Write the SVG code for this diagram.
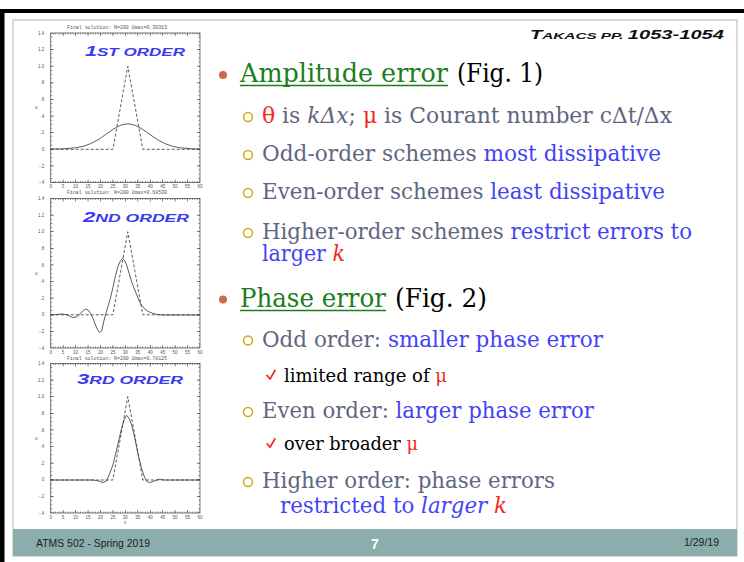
<svg xmlns="http://www.w3.org/2000/svg" width="744" height="562" viewBox="0 0 744 562">
<style>
.ser{font-family:"DejaVu Serif","Liberation Serif",serif}
.main{font-size:26px;fill:#000}
.sub{font-size:21.5px;fill:#5f6682}
.chk{font-size:18px;fill:#000}
.b{fill:#4343f5}
.r{fill:#f02a1e}
.g{fill:#1b7d1b}
.i{font-style:italic}
.tk{font-family:"Liberation Sans",Arial,sans-serif;font-size:4.5px;fill:#555}
.ttl{font-family:"Liberation Mono",monospace;font-size:5.5px;fill:#555}
.ord{font-family:"Liberation Sans",Arial,sans-serif;font-weight:bold;font-style:italic;fill:#3a3af0}
.cv{fill:none;stroke:#333;stroke-width:0.8;stroke-linejoin:round}
.ds{stroke-dasharray:3 2}
.sb{fill:none;stroke:#cfa914;stroke-width:1.5}
.dot{fill:#d0664e}
.ul{stroke:#1b7d1b;stroke-width:1.6}
.ck{fill:none;stroke:#f02a1e;stroke-width:1.7;stroke-linecap:round;stroke-linejoin:round}
.ft{font-family:"Liberation Sans",Arial,sans-serif;font-size:10.5px;fill:#222}
</style>
<defs>
<g id="ax" stroke="#555" fill="none">
<rect x="0" y="0" width="149.3" height="149.5" stroke-width="0.8"/>
<line x1="0.75" y1="0" x2="0.75" y2="149.5" stroke-width="1.5" stroke-dasharray="0.6 3.5528" stroke-dashoffset="0.3"/>
<line x1="1.5" y1="0" x2="1.5" y2="149.5" stroke-width="3" stroke-dasharray="0.7 15.911" stroke-dashoffset="0.35"/>
<line x1="148.55" y1="0" x2="148.55" y2="149.5" stroke-width="1.5" stroke-dasharray="0.6 3.5528" stroke-dashoffset="0.3"/>
<line x1="147.8" y1="0" x2="147.8" y2="149.5" stroke-width="3" stroke-dasharray="0.7 15.911" stroke-dashoffset="0.35"/>
<line x1="0" y1="0.75" x2="149.3" y2="0.75" stroke-width="1.5" stroke-dasharray="0.6 1.8883" stroke-dashoffset="0.3"/>
<line x1="0" y1="1.5" x2="149.3" y2="1.5" stroke-width="3" stroke-dasharray="0.7 11.7417" stroke-dashoffset="0.35"/>
<line x1="0" y1="148.75" x2="149.3" y2="148.75" stroke-width="1.5" stroke-dasharray="0.6 1.8883" stroke-dashoffset="0.3"/>
<line x1="0" y1="148" x2="149.3" y2="148" stroke-width="3" stroke-dasharray="0.7 11.7417" stroke-dashoffset="0.35"/>
<g class="tk" stroke="none" text-anchor="end">
<text x="-6.5" y="1.6">1.4</text><text x="-6.5" y="18.2">1.2</text><text x="-6.5" y="34.8">1.0</text><text x="-6.5" y="51.4">.8</text><text x="-6.5" y="68">.6</text><text x="-6.5" y="84.7">.4</text><text x="-6.5" y="101.3">.2</text><text x="-6.5" y="117.9">0</text><text x="-6.5" y="134.5">-.2</text><text x="-6.5" y="151.1">-.4</text>
</g>
<g class="tk" stroke="none" text-anchor="middle">
<text x="0" y="155">0</text><text x="12.44" y="155">5</text><text x="24.88" y="155">10</text><text x="37.33" y="155">15</text><text x="49.77" y="155">20</text><text x="62.21" y="155">25</text><text x="74.65" y="155">30</text><text x="87.09" y="155">35</text><text x="99.53" y="155">40</text><text x="111.98" y="155">45</text><text x="124.42" y="155">50</text><text x="136.86" y="155">55</text><text x="149.3" y="155">60</text>
<text x="-14.5" y="76">u</text>
</g>
</g>
</defs>
<rect width="744" height="562" fill="#fff"/>
<g id="frame">
<rect x="0" y="9" width="744" height="4" fill="#000"/>
<rect x="0" y="9" width="4.5" height="553" fill="#000"/>
<rect x="13" y="20" width="724" height="536" fill="none" stroke="#a9bcbc" stroke-width="1"/>
<rect x="13" y="529" width="724" height="27" fill="#8badab"/>
</g>
<g id="footer">
<text class="ft" x="36" y="547" textLength="114" lengthAdjust="spacingAndGlyphs">ATMS 502 - Spring 2019</text>
<text x="375" y="549" text-anchor="middle" font-family="Liberation Sans,Arial,sans-serif" font-weight="bold" font-size="14" fill="#fff">7</text>
<text class="ft" x="719" y="546" text-anchor="end">1/29/19</text>
</g>
<g id="header">
<text x="530" y="38.5" textLength="194" lengthAdjust="spacingAndGlyphs" font-family="Liberation Sans,Arial,sans-serif" font-weight="bold" font-style="italic" fill="#111"><tspan font-size="12.5">T</tspan><tspan font-size="9.5">AKACS PP. </tspan><tspan font-size="12.5">1053-1054</tspan></text>
</g>
<g id="plot1">
<text class="ttl" x="117" y="28.5" text-anchor="middle" textLength="100" lengthAdjust="spacingAndGlyphs">Final solution: N=200 Umax=0.30313</text>
<use href="#ax" x="50.7" y="33"/>
<polyline class="cv ds" points="50.7,149.3 112.9,149.3 127.8,66.2 142.8,149.3 200,149.3"/>
<polyline class="cv" points="50.7,149 63.1,148.8 75.6,147.8 83.1,146.4 90.5,143.7 98,139.8 101.7,137.3 105.4,134.7 109.2,132 112.9,129.5 116.6,127.2 120.4,125.4 124.1,124.3 127.8,123.9 131.6,124.3 135.3,125.4 139,127.2 142.8,129.5 146.5,132 150.2,134.7 154,137.3 157.7,139.8 165.2,143.7 172.6,146.4 180.1,147.8 192.5,148.8 200,149"/>
<text class="ord" x="85" y="55.7" textLength="100" lengthAdjust="spacingAndGlyphs"><tspan font-size="14.5">1</tspan><tspan font-size="11.5">ST ORDER</tspan></text>
</g>
<g id="plot2">
<text class="ttl" x="117" y="194" text-anchor="middle" textLength="100" lengthAdjust="spacingAndGlyphs">Final solution: N=200 Umax=0.68530</text>
<use href="#ax" x="50.7" y="198.5"/>
<polyline class="cv ds" points="50.7,314.8 112.9,314.8 127.8,231.7 142.8,314.8 200,314.8"/>
<polyline class="cv" points="50.7,315 55.7,314.6 61.9,314 66.9,314.75 70.6,316.7 73.1,317.5 76.8,316.7 80.6,313.3 83,310.8 85.5,309.2 88,310 90.5,313.3 93,318.3 95.5,325 98,330.8 100,332.5 102,330 103.7,321.7 105.4,315 107.9,306.7 110.4,298.3 112.9,287.5 115.4,275.8 117.9,266.7 120.4,260.9 122.4,258.4 124.4,260 126.6,265 129.1,273.4 131.6,281.7 134.1,288.3 136.5,294.2 139,300.8 141.5,305 144,308.3 147.7,311.3 152.7,313.3 157.7,314.5 162.7,315 200,315"/>
<text class="ord" x="83" y="222" textLength="106" lengthAdjust="spacingAndGlyphs"><tspan font-size="14.5">2</tspan><tspan font-size="11.5">ND ORDER</tspan></text>
</g>
<g id="plot3">
<text class="ttl" x="117" y="359.5" text-anchor="middle" textLength="100" lengthAdjust="spacingAndGlyphs">Final solution: N=200 Umax=0.78125</text>
<use href="#ax" x="50.7" y="363.5"/>
<polyline class="cv ds" points="50.7,480 112.9,480 127.8,396.5 142.8,480 200,480"/>
<polyline class="cv" points="50.7,480 93,480 98,480.8 103,482.5 106.7,480.8 109.9,472.9 112.9,465 116.6,449.9 121.6,428.2 124.1,419.9 126.6,415.3 129.1,418.2 131.6,424.9 134.1,434.9 136.5,446.6 139,458.3 141.5,468.3 144,475.8 146.5,481.3 149.7,482.5 152.7,481.7 156.5,480 160.2,479.2 163.9,480 200,480"/>
<text class="tk" x="125" y="524" text-anchor="middle">x</text>
<text class="ord" x="77" y="384" textLength="106" lengthAdjust="spacingAndGlyphs"><tspan font-size="14.5">3</tspan><tspan font-size="11.5">RD ORDER</tspan></text>
</g>
<g id="amplitude">
<circle class="dot" cx="223" cy="75" r="4"/>
<text class="ser main g" x="240" y="82" textLength="208" lengthAdjust="spacingAndGlyphs">Amplitude error</text>
<line class="ul" x1="240" y1="85.5" x2="448" y2="85.5"/>
<text class="ser main" x="457" y="82" textLength="86" lengthAdjust="spacingAndGlyphs">(Fig. 1)</text>
<circle class="sb" cx="248" cy="117" r="4.5"/>
<text class="ser sub" x="262" y="123" textLength="410" lengthAdjust="spacingAndGlyphs"><tspan class="r">θ</tspan> is <tspan class="i">kΔx</tspan>; <tspan class="r">μ</tspan> is Courant number cΔt/Δx</text>
<circle class="sb" cx="248" cy="155" r="4.5"/>
<text class="ser sub" x="262" y="161" textLength="399" lengthAdjust="spacingAndGlyphs">Odd-order schemes <tspan class="b">most dissipative</tspan></text>
<circle class="sb" cx="248" cy="193" r="4.5"/>
<text class="ser sub" x="262" y="199" textLength="403" lengthAdjust="spacingAndGlyphs">Even-order schemes <tspan class="b">least dissipative</tspan></text>
<circle class="sb" cx="248" cy="233" r="4.5"/>
<text class="ser sub" x="262" y="239" textLength="430" lengthAdjust="spacingAndGlyphs">Higher-order schemes <tspan class="b">restrict errors to</tspan></text>
<text class="ser sub b" x="262" y="261" textLength="83" lengthAdjust="spacingAndGlyphs">larger <tspan class="r i">k</tspan></text>
</g>
<g id="phase">
<circle class="dot" cx="223" cy="299.5" r="4"/>
<text class="ser main g" x="240" y="306.7" textLength="146" lengthAdjust="spacingAndGlyphs">Phase error</text>
<line class="ul" x1="240" y1="310.5" x2="386" y2="310.5"/>
<text class="ser main" x="395" y="306.7" textLength="92" lengthAdjust="spacingAndGlyphs">(Fig. 2)</text>
<circle class="sb" cx="248" cy="340.5" r="4.5"/>
<text class="ser sub" x="262" y="346.7" textLength="341" lengthAdjust="spacingAndGlyphs">Odd order: <tspan class="b">smaller phase error</tspan></text>
<path class="ck" d="M267,375.5 L270,379 L275,370.5"/>
<text class="ser chk" x="284" y="381.7" textLength="163" lengthAdjust="spacingAndGlyphs">limited range of <tspan class="r">μ</tspan></text>
<circle class="sb" cx="248" cy="412" r="4.5"/>
<text class="ser sub" x="262" y="418.3" textLength="332" lengthAdjust="spacingAndGlyphs">Even order: <tspan class="b">larger phase error</tspan></text>
<path class="ck" d="M267,443.8 L270,447.3 L275,438.8"/>
<text class="ser chk" x="284" y="450" textLength="134" lengthAdjust="spacingAndGlyphs">over broader <tspan class="r">μ</tspan></text>
<circle class="sb" cx="248" cy="482" r="4.5"/>
<text class="ser sub" x="262" y="488.3" textLength="293" lengthAdjust="spacingAndGlyphs">Higher order: phase errors</text>
<text class="ser sub b" x="280" y="512.7" textLength="227" lengthAdjust="spacingAndGlyphs">restricted to <tspan class="i">larger</tspan> <tspan class="r i">k</tspan></text>
</g>
</svg>
